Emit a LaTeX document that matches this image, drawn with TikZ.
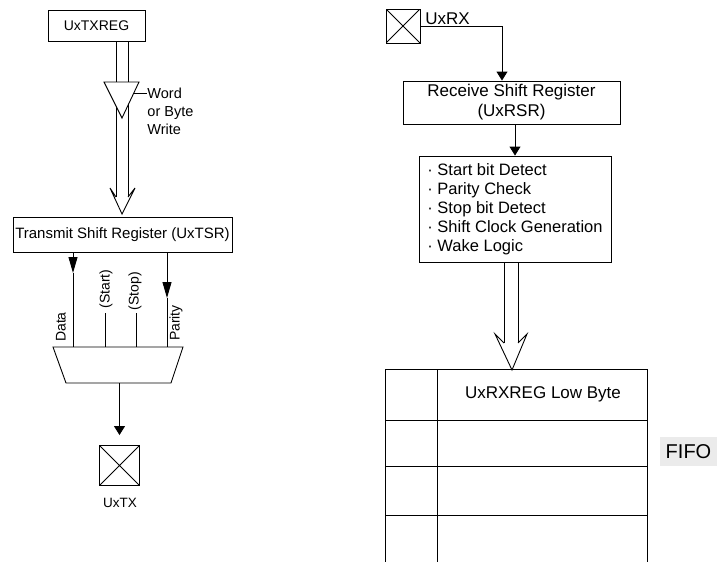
\documentclass[tikz,border=0pt]{standalone}
\usepackage{fontspec}
\setmainfont{Liberation Sans}
\usetikzlibrary{arrows.meta}
\begin{document}
\begin{tikzpicture}[x=1pt,y=-1pt, line width=0.9pt,
  box/.style={draw, rectangle, inner sep=0pt, align=center},
  padbox/.style={draw, rectangle, inner sep=0pt, minimum width=#1, minimum height=#1,
    path picture={\draw[line width=0.8pt] (path picture bounding box.north west) -- (path picture bounding box.south east)
      (path picture bounding box.north east) -- (path picture bounding box.south west);}},
  arrlong/.style={-{Triangle[length=16pt,width=9pt]}},
  arrshort/.style={-{Triangle[length=9pt,width=11pt]}},
  lbl/.style={inner sep=0pt, font=\fontsize{14}{18}\selectfont},
  big/.style={inner sep=0pt, font=\fontsize{17}{20}\selectfont},
]
\useasboundingbox (0,0) rectangle (717,562);

% ---------- transmit side ----------
\node[box, minimum width=97pt, minimum height=31pt, font=\fontsize{14}{16}\selectfont] (txreg) at (96.5,25.5) {UxTXREG};

\coordinate (b1) at (116,197);
\coordinate (b2) at (128,197);
\draw (txreg.south -| b1) -- (b1);
\draw (txreg.south -| b2) -- (b2);
\draw[fill=white] (b1) -- (110,188) -- (122,214) -- (135,188) -- (b2);
\draw[fill=white] (104,82) -- (139,82) -- (122,118) -- cycle;

\node[lbl, align=left, anchor=west, font=\fontsize{14.5}{18}\selectfont] (wbw) at (147,111) {Word\\or Byte\\Write};
\coordinate (wtick) at (133,93);
\draw (wtick) -- (wtick -| wbw.west);

\node[box, minimum width=219pt, minimum height=35pt, font=\fontsize{15}{17}\selectfont] (tsr) at (122.5,234.5) {Transmit Shift Register (UxTSR)};

\coordinate (m1) at (53,347);
\coordinate (m2) at (183,347);
\coordinate (m3) at (171,383);
\coordinate (m4) at (66,383);
\draw (m1) -- (m2) -- (m3) -- (m4) -- cycle;

\coordinate (dmid) at (73,273);
\draw[arrlong] (tsr.south -| dmid) -- (dmid);
\draw (dmid) -- (dmid |- m1);
\coordinate (pmid) at (167,298);
\draw[arrlong] (tsr.south -| pmid) -- (pmid);
\draw (pmid) -- (pmid |- m1);
\coordinate (st) at (105,313);
\draw (st) -- (st |- m1);
\coordinate (sp) at (136,313);
\draw (sp) -- (sp |- m1);

\node[lbl, rotate=90] (ldata) at (61,327) {Data};
\node[lbl, rotate=90] (lstart) at (106,289) {(Start)};
\node[lbl, rotate=90] (lstop) at (135,291) {(Stop)};
\node[lbl, rotate=90] (lpar) at (176,323) {Parity};

\node[padbox=40pt] (tx) at (119.5,465.5) {};
\coordinate (mo) at (119.5,383);
\draw[arrshort, shorten >=10pt] (mo) -- (tx.north);
\node[lbl, font=\fontsize{13.5}{16}\selectfont] (txl) at (120,503) {UxTX};

% ---------- receive side ----------
\node[padbox=34pt] (rx) at (403,26) {};
\node[big] (rxl) at (447.5,19) {UxRX};

\node[box, big, minimum width=217pt, minimum height=43pt] (rsr) at (511.5,102.5) {Receive Shift Register\\(UxRSR)};
\draw[arrshort] (rx.east) -| ([xshift=-9.5pt]rsr.north);

\node[box, minimum width=192pt, minimum height=106pt, align=left, font=\fontsize{16.5}{19}\selectfont] (logic) at (515,209)
  {· Start bit Detect\\· Parity Check\\· Stop bit Detect\\· Shift Clock Generation\\· Wake Logic};
\draw[arrshort] (rsr.south -| logic.north) -- (logic.north);

\coordinate (c1) at (504,343);
\coordinate (c2) at (518,343);
\draw (logic.south -| c1) -- (c1);
\draw (logic.south -| c2) -- (c2);
\draw[fill=white] (c1) -- (495,334) -- (512,370) -- (527,334) -- (c2);

% FIFO table
\coordinate (t1) at (385,369);
\coordinate (t2) at (437,369);
\coordinate (t3) at (647,369);
\draw (t1) -- (t3);
\draw (t1) -- (385,562);
\draw (t2) -- (437,562);
\draw (t3) -- (647,562);
\draw (385,420) -- (647,420);
\draw (385,466) -- (647,466);
\draw (385,515) -- (647,515);
\node[big] (lowbyte) at (543,394.5) {UxRXREG Low Byte};

\node[fill=black!8, minimum width=57pt, minimum height=29pt, inner sep=0pt, font=\fontsize{20}{22}\selectfont] (fifo) at (688.5,451.5) {FIFO};
\end{tikzpicture}
\end{document}
